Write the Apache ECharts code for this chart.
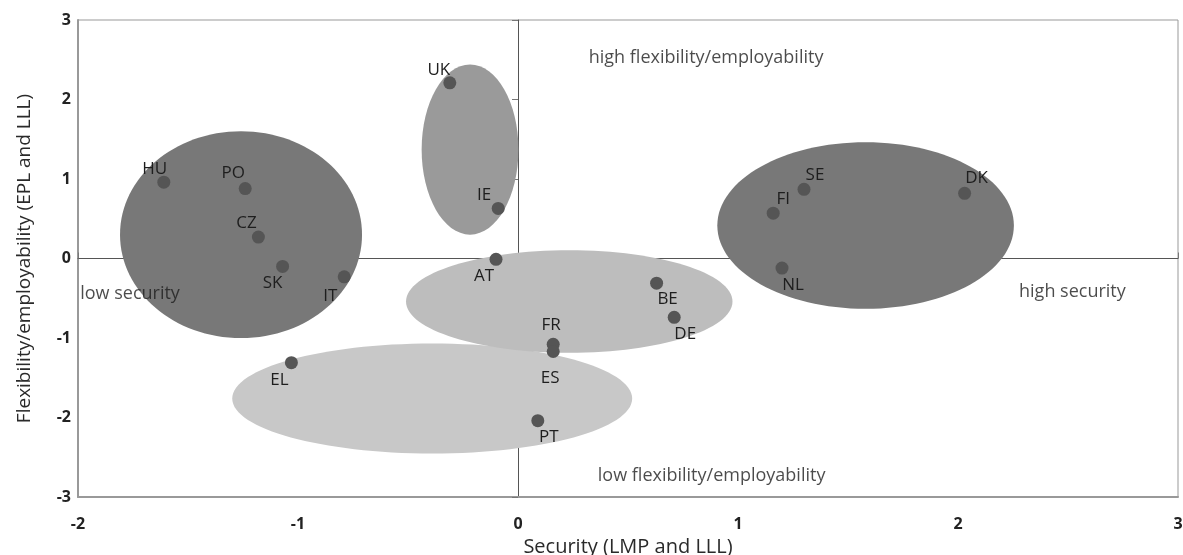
<!DOCTYPE html>
<html>
<head>
<meta charset="utf-8">
<script src="https://cdn.jsdelivr.net/npm/echarts@6/dist/echarts.min.js"></script>
<style>
html,body{margin:0;padding:0;background:#fff;}
#chart{width:1183px;height:555px;}
</style>
</head>
<body>
<div id="chart"></div>
<script>
// Countries (points)
var countries = ['HU','PO','CZ','SK','IT','UK','IE','AT','BE','DE','FR','ES','PT','EL','FI','SE','DK','NL'];
var securityValues = [-1.61,-1.24,-1.18,-1.07,-0.79,-0.31,-0.09,-0.10,0.63,0.71,0.16,0.16,0.09,-1.03,1.16,1.30,2.03,1.20];
var flexibilityValues = [0.96,0.88,0.27,-0.10,-0.23,2.21,0.63,-0.01,-0.31,-0.74,-1.08,-1.17,-2.04,-1.31,0.57,0.87,0.82,-0.12];

// Cluster ellipses (data units): centre x, centre y, radius x, radius y
var clusterNames = ['southern','continental','eastern','anglo','nordic'];
var clusterCx = [-0.39, 0.233, -1.259, -0.218, 1.580];
var clusterCy = [-1.76, -0.54, 0.30, 1.37, 0.415];
var clusterRx = [0.909, 0.742, 0.55, 0.22, 0.674];
var clusterRy = [0.692, 0.645, 1.30, 1.07, 1.048];

// Quadrant annotations
var annotationTexts = ['high flexibility/employability','low flexibility/employability','low security','high security'];
var annotationX = [0.855, 0.88, -1.99, 2.52];
var annotationY = [2.52, -2.73, -0.44, -0.415];

// Axis ticks
var xTicks = [-2,-1,0,1,2,3];
var yTicks = [-3,-2,-1,0,1,2,3];

// ---- styles (kept separate from data) ----
var clusterColors = ['#c8c8c8','#bdbdbd','#787878','#9a9a9a','#787878'];
var labelOffsets = {
  HU:[-9,-13], PO:[-12,-15], CZ:[-12,-14], SK:[-10,17], IT:[-14,19],
  UK:[-11,-13], IE:[-14,-13], AT:[-12,17], BE:[11,16], DE:[11,17],
  FR:[-2,-19], ES:[-3,27], PT:[11,16], EL:[-12,18], FI:[10,-14],
  SE:[11,-14], DK:[12,-15], NL:[11,17]
};
var annotationAlign = ['center','center','left','center'];
var FONT = '"Open Sans", "Noto Sans", sans-serif';

var ellipseData = clusterNames.map(function(n,i){
  return {name:n, value:[clusterCx[i], clusterCy[i], clusterRx[i], clusterRy[i]], itemStyle:{color:clusterColors[i]}};
});

var pointData = countries.map(function(c,i){
  return {name:c, value:[securityValues[i], flexibilityValues[i]],
    label:{offset:labelOffsets[c]}};
});

var annData = annotationTexts.map(function(t,i){
  return {name:t, value:[annotationX[i], annotationY[i]], label:{align:annotationAlign[i]}};
});

var chart = echarts.init(document.getElementById('chart'));
chart.setOption({
  animation:false,
  textStyle:{fontFamily:FONT},
  grid:{left:78,right:5,top:20,bottom:58,show:true,borderColor:'#999',borderWidth:1,backgroundColor:'transparent',
        containLabel:false, outerBoundsMode:'none'},
  xAxis:[{
    type:'value', min:xTicks[0], max:xTicks[xTicks.length-1], interval:1, position:'bottom',
    name:'Security (LMP and LLL)', nameLocation:'middle', nameGap:29,
    nameTextStyle:{fontSize:20,color:'#2a2a2a',fontFamily:FONT},
    axisLine:{onZero:false,lineStyle:{color:'#999',width:2}},
    axisTick:{show:false}, splitLine:{show:false},
    axisLabel:{color:'#222',fontSize:16,fontWeight:'bold',margin:19,fontFamily:FONT,showMaxLabel:true,showMinLabel:true}
  },{
    type:'value', min:xTicks[0], max:xTicks[xTicks.length-1], interval:1, position:'bottom',
    axisLine:{onZero:true,lineStyle:{color:'#555',width:1}},
    axisTick:{show:true,inside:true,length:6,lineStyle:{color:'#777'}},
    axisLabel:{show:false}, splitLine:{show:false}
  }],
  yAxis:[{
    type:'value', min:yTicks[0], max:yTicks[yTicks.length-1], interval:1, position:'left',
    name:'Flexibility/employability (EPL and LLL)', nameLocation:'middle', nameGap:44,
    nameTextStyle:{fontSize:19,color:'#2a2a2a',fontFamily:FONT},
    axisLine:{onZero:false,lineStyle:{color:'#999',width:2}},
    axisTick:{show:false}, splitLine:{show:false},
    axisLabel:{color:'#222',fontSize:16,fontWeight:'bold',margin:7,fontFamily:FONT}
  },{
    type:'value', min:yTicks[0], max:yTicks[yTicks.length-1], interval:1, position:'left',
    axisLine:{onZero:true,lineStyle:{color:'#555',width:1}},
    axisTick:{show:true,inside:false,length:6,lineStyle:{color:'#777'}},
    axisLabel:{show:false}, splitLine:{show:false}
  }],
  series:[{
    type:'custom',
    xAxisIndex:0, yAxisIndex:0,
    silent:true, z:1,
    data:ellipseData,
    renderItem:function(params, api){
      var c = api.coord([api.value(0), api.value(1)]);
      var s = api.size([api.value(2), api.value(3)]);
      return {
        type:'ellipse',
        shape:{cx:c[0], cy:c[1], rx:s[0], ry:s[1]},
        style:{fill:api.visual('color')}
      };
    },
    clip:true
  },{
    type:'scatter', xAxisIndex:0, yAxisIndex:0, z:3,
    symbolSize:13,
    itemStyle:{color:'#555',opacity:1},
    label:{show:true,position:'inside',formatter:'{b}',color:'#1e1e1e',fontSize:17,fontFamily:FONT},
    data:pointData
  },{
    type:'scatter', xAxisIndex:0, yAxisIndex:0, z:3, silent:true,
    symbolSize:0,
    label:{show:true,position:'inside',formatter:'{b}',color:'#1e1e1e',fontSize:18,fontFamily:FONT},
    data:annData
  }]
});
</script>
</body>
</html>
